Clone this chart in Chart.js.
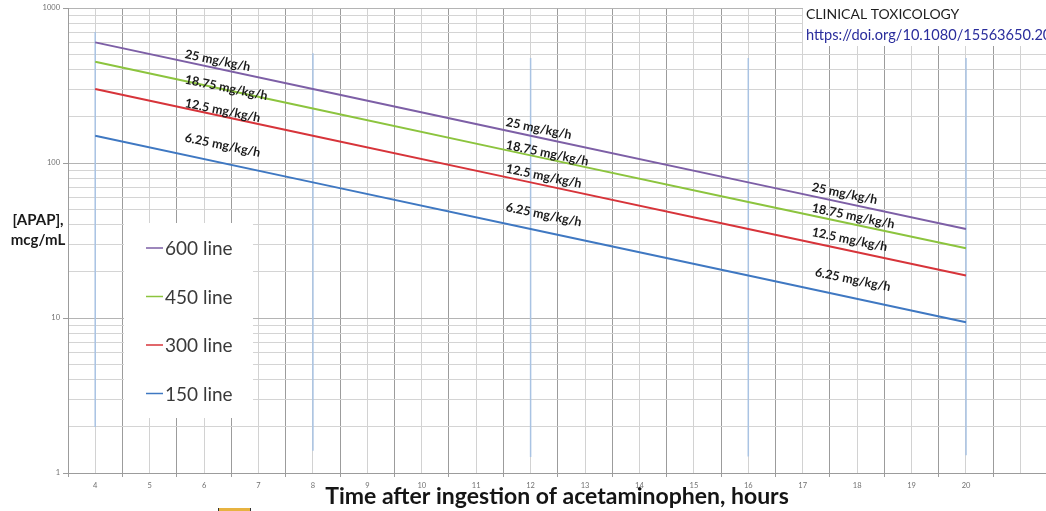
<!DOCTYPE html>
<html lang="en">
<head>
  <meta charset="UTF-8" />
  <title>Acetaminophen nomogram lines</title>
  <script src="https://cdn.jsdelivr.net/npm/chart.js"></script>
  <style>
    html, body { margin: 0; padding: 0; background: #fff; }
    .chart-container { position: relative; width: 1046px; height: 511px; }
  </style>
</head>
<body>
  <div class="chart-container">
    <canvas id="nomogram"></canvas>
  </div>

  <script>
    // values
    const hours = [4, 8, 12, 16, 20];
    const line600 = [600, 300, 150, 75, 37.5];
    const line450 = [450, 225, 112, 56, 28.2];
    const line300 = [300, 150, 75, 37.5, 18.8];
    const line150 = [150, 75, 37.5, 18.8, 9.4];
    const seriesNames = ["600 line", "450 line", "300 line", "150 line"];
    const doseLabels = ["25 mg/kg/h", "18.75 mg/kg/h", "12.5 mg/kg/h", "6.25 mg/kg/h"];

    // thin vertical blue marks at every 4 h
    const spikeHours = [4, 8, 12, 16, 20];
    const spikeTop = [700, 510, 476, 476, 476];
    const spikeBottom = [1.98, 1.39, 1.27, 1.28, 1.3];

    const xTickLabels = [4, 5, 6, 7, 8, 9, 10, 11, 12, 13, 14, 15, 16, 17, 18, 19, 20];
    const yTickLabels = [1, 10, 100, 1000];

    const seriesColors = ["#7d5fa6", "#8cc43e", "#d7343a", "#3f78c2"];
    const darkGrid = "#9c9c9c";
    const lightGrid = "#d2d2d2";

    Chart.defaults.font.family = "Lato, 'Open Sans', sans-serif";

    const lineSets = [line600, line450, line300, line150].map((vals, i) => ({
      label: seriesNames[i],
      data: hours.map((h, j) => ({ x: h, y: vals[j] })),
      borderColor: seriesColors[i],
      borderWidth: 2,
      pointRadius: 0,
      tension: 0
    }));

    const spikeSets = spikeHours.map((h, i) => ({
      label: "",
      isSpike: true,
      data: [{ x: h, y: spikeTop[i] }, { x: h, y: spikeBottom[i] }],
      borderColor: "#a9c3e3",
      borderWidth: 1.5,
      pointRadius: 0
    }));

    // white boxes, legend, rotated dose labels and free texts
    const overlayPlugin = {
      id: "overlay",
      beforeDatasetsDraw(chart, args, opts) {
        const ctx = chart.ctx;
        ctx.save();
        ctx.fillStyle = "#fff";
        opts.whiteBoxes.forEach(b => ctx.fillRect(b.x, b.y, b.w, b.h));
        ctx.restore();
      },
      afterDatasetsDraw(chart, args, opts) {
        const { ctx } = chart;
        const xs = chart.scales.x, ys = chart.scales.y;
        ctx.save();

        // dose labels along the lines
        ctx.font = "bold 12.5px Lato";
        ctx.fillStyle = "#1a1a1a";
        ctx.textAlign = "left";
        ctx.textBaseline = "middle";
        opts.doseGroups.forEach(g => {
          g.at.forEach((v, i) => {
            const px = xs.getPixelForValue(g.x[i]);
            const py = ys.getPixelForValue(v);
            ctx.save();
            ctx.translate(px, py);
            ctx.rotate(opts.doseAngle * Math.PI / 180);
            ctx.fillText(doseLabels[i], 0, 0);
            ctx.restore();
          });
        });

        // legend
        const lg = opts.legend;
        ctx.font = "19px Lato";
        ctx.fillStyle = "#3a3a3a";
        chart.data.datasets.filter(d => !d.isSpike).forEach((d, i) => {
          const yy = lg.y + i * lg.step;
          ctx.strokeStyle = d.borderColor;
          ctx.lineWidth = 1.5;
          ctx.beginPath();
          ctx.moveTo(lg.x, yy);
          ctx.lineTo(lg.x + 17, yy);
          ctx.stroke();
          ctx.fillText(d.label, lg.x + 19, yy + 1);
        });

        // y axis title (horizontal, two lines)
        ctx.font = "bold 15px Lato";
        ctx.fillStyle = "#1a1a1a";
        ctx.textAlign = "center";
        ctx.fillText("[APAP],", 38, 220);
        ctx.fillText("mcg/mL", 38, 240);

        // journal mark top right
        ctx.textAlign = "left";
        ctx.font = "14px Lato";
        ctx.fillStyle = "#1d1d1d";
        ctx.fillText("CLINICAL TOXICOLOGY", 806, 14);
        ctx.font = "14.6px Lato";
        ctx.fillStyle = "#2a2d9c";
        ctx.fillText("https://doi.org/10.1080/15563650.20", 806, 35);

        // small yellow mark at bottom edge
        ctx.fillStyle = "#e7b340";
        ctx.fillRect(219, 508, 31, 3);
        ctx.fillStyle = "#333";
        ctx.fillRect(218, 508, 1, 3);
        ctx.fillRect(250, 508, 1, 3);

        ctx.restore();
      }
    };

    const ctx = document.getElementById("nomogram").getContext("2d");

    new Chart(ctx, {
      type: "line",
      data: { datasets: lineSets.concat(spikeSets) },
      plugins: [overlayPlugin],
      options: {
        responsive: true,
        maintainAspectRatio: false,
        animation: false,
        layout: { padding: { top: 8, right: 0, bottom: 0, left: 0 } },
        plugins: {
          legend: { display: false },
          tooltip: { enabled: false },
          overlay: {
            whiteBoxes: [
              { x: 124, y: 223, w: 129, h: 195 },
              { x: 803, y: 0, w: 243, h: 46 }
            ],
            legend: { x: 146, y: 248, step: 48.5 },
            doseAngle: 11.5,
            doseGroups: [
              { x: [5.65, 5.65, 5.65, 5.65], at: [505, 346, 244, 146] },
              { x: [11.55, 11.55, 11.55, 11.55], at: [184, 131, 92, 52] },
              { x: [17.17, 17.17, 17.17, 17.23], at: [70, 51.4, 35.9, 19.8] }
            ]
          }
        },
        scales: {
          x: {
            type: "linear",
            min: 3.5,
            max: 21.47,
            afterBuildTicks: scale => {
              const t = [];
              for (let i = 7; i <= 42; i++) t.push({ value: i / 2 });
              scale.ticks = t;
            },
            afterFit: scale => { scale.height = 38; },
            grid: {
              color: c => (c.tick && Number.isInteger(c.tick.value)) ? lightGrid : darkGrid,
              tickColor: c => (c.tick && Number.isInteger(c.tick.value)) ? "rgba(0,0,0,0)" : darkGrid,
              tickLength: 4
            },
            border: { color: darkGrid },
            ticks: {
              autoSkip: false,
              maxRotation: 0,
              padding: 4,
              color: "#707070",
              font: { size: 7.5 },
              callback: v => xTickLabels.includes(v) ? String(v) : ""
            },
            title: {
              display: true,
              text: "Time after ingestion of acetaminophen, hours",
              color: "#151515",
              font: { size: 23, weight: "bold" },
              padding: { top: 0, bottom: 1 }
            }
          },
          y: {
            type: "logarithmic",
            min: 1,
            max: 1000,
            afterBuildTicks: scale => {
              const t = [];
              [1, 10, 100].forEach(d => {
                for (let k = 1; k <= 9; k++) t.push({ value: k * d });
              });
              t.push({ value: 1000 });
              scale.ticks = t;
            },
            afterFit: scale => { scale.width = 68; },
            grid: {
              color: c => (c.tick && yTickLabels.includes(c.tick.value)) ? "#b4b4b4" : "#d4d4d4",
              tickColor: c => (c.tick && yTickLabels.includes(c.tick.value)) ? darkGrid : "rgba(0,0,0,0)",
              tickLength: 5
            },
            border: { color: darkGrid },
            ticks: {
              autoSkip: false,
              padding: 3,
              color: "#707070",
              font: { size: 7.5 },
              callback: v => yTickLabels.includes(v) ? String(v) : ""
            }
          }
        }
      }
    });
  </script>
</body>
</html>
